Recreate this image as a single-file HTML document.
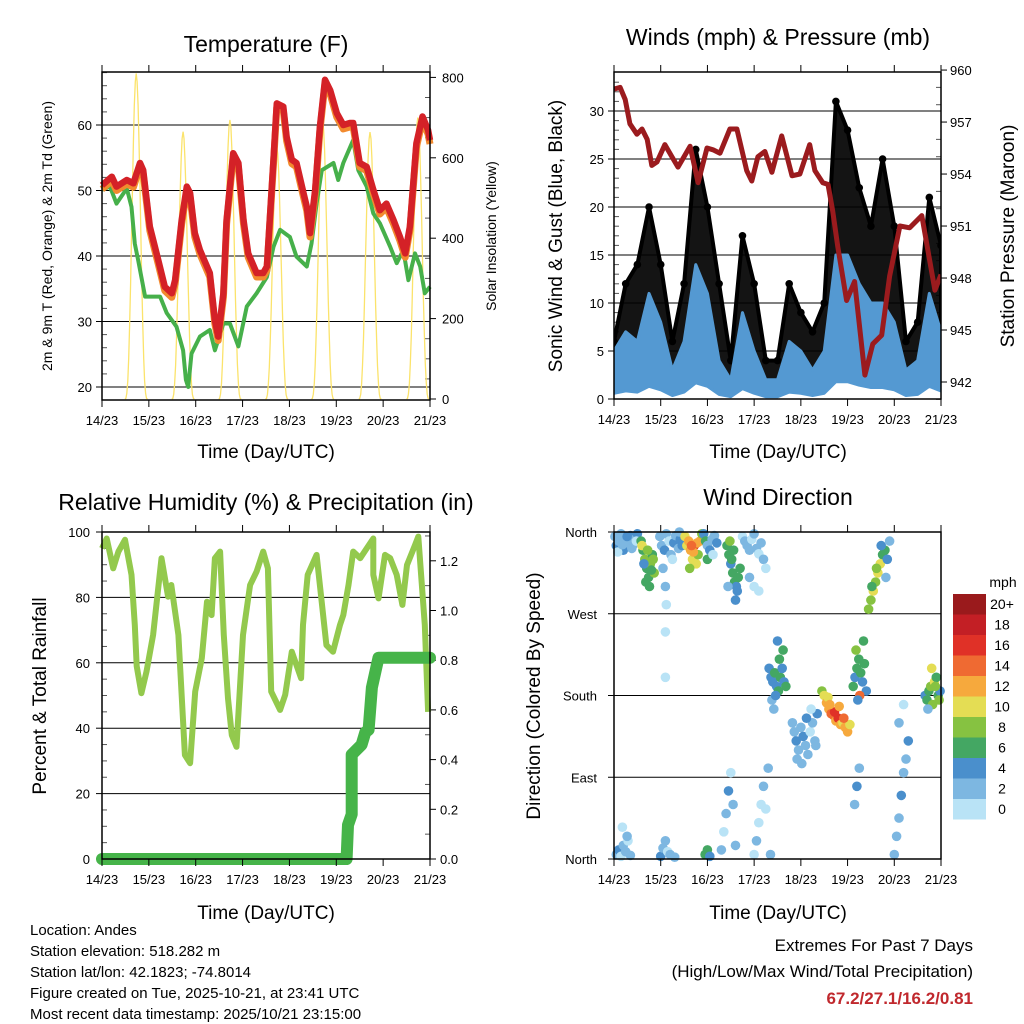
<!DOCTYPE html>
<html><head><meta charset="utf-8"><style>
body{margin:0;background:#fff}
svg{display:block;font-family:"Liberation Sans",sans-serif}
</style></head><body>
<svg id="s" width="1024" height="1024" viewBox="0 0 1024 1024" xmlns="http://www.w3.org/2000/svg"></svg>
<script>
// ---------- data ----------
const dayLabels=["14/23","15/23","16/23","17/23","18/23","19/23","20/23","21/23"];
const tempDays=[0,0.21,0.31,0.53,0.67,0.81,0.88,1.02,1.2,1.34,1.49,1.56,1.7,1.81,1.88,1.98,2.09,2.3,2.41,2.48,2.59,2.66,2.8,2.91,3.02,3.12,3.3,3.44,3.52,3.66,3.73,3.87,3.94,4.05,4.15,4.3,4.37,4.44,4.55,4.65,4.76,4.87,5.01,5.15,5.29,5.36,5.5,5.65,5.79,5.93,6.07,6.22,6.36,6.47,6.57,6.71,6.84,6.96,7.0];
const tempVals=[50.8,52.1,50.6,51.6,51.1,54.2,53.1,44.5,39.4,35.3,34.3,36.3,45.5,50.6,49.6,43.5,40.9,37.4,30.2,27.7,34.3,45.5,55.7,54.2,45.5,40.4,37.4,37.4,38.4,54.7,63.3,62.8,58.2,54.7,54.2,49.6,47.5,43.5,50.1,59.7,66.9,65.3,61.8,60.0,60.3,60.3,54.2,53.6,50.1,47.0,48.0,45.5,42.9,40.4,44.5,57.2,61.3,59.2,57.7];
const dewDays=[0,0.17,0.31,0.53,0.63,0.7,0.77,0.92,1.24,1.38,1.59,1.73,1.79,1.84,1.91,2.09,2.3,2.41,2.59,2.73,2.91,3.09,3.3,3.52,3.66,3.8,4.01,4.15,4.37,4.47,4.58,4.69,4.94,5.04,5.15,5.36,5.47,5.65,5.79,5.93,6.15,6.29,6.43,6.54,6.68,6.79,6.89,7.0];
const dewVals=[50.1,50.6,48.0,50.3,47.5,41.9,39.4,33.8,33.8,31.3,29.2,25.6,21.1,20.0,25.1,27.7,28.7,25.6,29.7,29.7,26.2,32.3,34.3,36.8,41.4,44.0,42.9,39.9,38.4,41.9,48.0,53.1,54.2,51.6,54.2,57.7,53.1,50.6,46.5,45.0,41.4,38.9,40.9,36.3,40.4,38.4,34.3,35.3];
const solarPeakDays=[0.73,1.73,2.73,3.73,4.71,5.72,6.74];
const solarPeakVals=[810,665,694,627,687,664,700];
const windDays=[0,0.25,0.5,0.75,1,1.25,1.5,1.75,2,2.25,2.5,2.75,3,3.25,3.5,3.75,4,4.25,4.5,4.75,5,5.25,5.5,5.75,6,6.25,6.5,6.75,7];
const sonicVals=[5,7,6,11,8,3,6,14,11,4,2,9,5,2,2,6,5,3,5,15,15,12,10,10,8,3,4,11,7];
const gustVals=[6,12,14,20,14,6,12,26,20,12,4,17,12,4,4,12,9,7,10,31,28,22,18,25,18,6,8,21,16];
const presDays=[0,0.13,0.24,0.34,0.49,0.6,0.71,0.81,0.92,1.09,1.24,1.37,1.63,1.8,1.99,2.12,2.27,2.48,2.63,2.84,2.95,3.08,3.23,3.38,3.59,3.81,3.98,4.19,4.3,4.47,4.58,4.68,4.79,4.98,5.15,5.37,5.54,5.73,5.9,6.12,6.33,6.59,6.87,7.0];
const presVals=[958.9,959.0,958.3,956.9,956.3,956.6,956.0,954.5,954.7,955.7,955.0,954.4,955.6,953.5,955.5,955.4,955.2,956.6,956.6,954.2,953.6,955.0,955.3,954.1,956.2,953.9,954.0,955.7,954.2,953.5,953.4,951.9,949.8,946.7,947.8,942.4,944.2,944.7,948.1,951.0,950.9,951.6,947.3,948.2];
const rhDays=[0,0.1,0.24,0.35,0.49,0.63,0.7,0.74,0.84,0.95,1.09,1.27,1.41,1.48,1.63,1.77,1.88,1.99,2.13,2.24,2.34,2.41,2.52,2.6,2.69,2.77,2.87,3.01,3.16,3.3,3.44,3.54,3.61,3.8,3.91,4.05,4.25,4.29,4.39,4.58,4.79,4.93,5.08,5.15,5.26,5.36,5.51,5.79,5.79,5.9,6.04,6.15,6.29,6.41,6.51,6.68,6.75,6.89,6.96];
const rhVals=[95,98,88.9,94,97.6,86.9,71.6,59,50.7,57.3,68.5,92,80.2,83.8,68.5,31.8,29.3,51.2,61.4,78.7,74.6,92,94,68.5,49.1,37.9,34.3,68.5,83.8,87.9,94,88.9,51.2,45.6,50.2,63.4,55.3,71.6,86.9,93,65.4,63.4,71.6,74.6,83.8,94,92,98,86.9,79.7,93,92,86.9,77.7,89.9,96,98.6,71.6,45,34.9,42];
const rainDays=[0,5.22,5.25,5.33,5.33,5.33,5.54,5.62,5.69,5.76,5.9,7.0];
const rainVals=[0,0,0.137,0.18,0.306,0.42,0.46,0.51,0.52,0.69,0.81,0.81];
const dirDays=[0.02,0.05,0.1,0.15,0.2,0.25,0.3,0.35,0.4,0.45,0.5,0.08,0.18,0.28,0.38,0.48,
0.58,0.62,0.66,0.7,0.74,0.78,0.82,0.86,0.6,0.68,0.76,0.84,0.72,0.8,0.64,
0.98,1.02,1.08,1.12,1.18,1.22,1.28,1.32,1.38,1.42,1.46,1.05,1.25,1.4,
1.52,1.56,1.6,1.64,1.68,1.72,1.76,1.8,1.84,1.88,1.62,1.7,1.78,1.66,
1.92,1.96,2.0,2.05,2.1,2.15,2.2,2.0,2.12,
2.42,2.46,2.5,2.54,2.58,2.62,2.66,2.7,2.48,2.56,2.64,2.52,2.6,2.44,
2.75,2.8,2.85,2.9,2.95,3.0,3.05,3.1,3.15,3.2,3.25,2.9,3.0,3.1,
3.32,3.36,3.4,3.44,3.48,3.52,3.56,3.6,3.64,3.68,3.38,3.46,3.54,3.62,3.5,3.42,
3.82,3.86,3.9,3.95,4.0,4.05,4.1,4.15,4.2,4.25,4.3,4.35,3.92,4.02,4.12,4.22,4.32,
4.45,4.5,4.55,4.6,4.65,4.7,4.75,4.8,4.85,4.9,4.95,5.0,5.05,4.58,4.72,4.82,4.92,4.62,
5.12,5.16,5.2,5.24,5.28,5.32,5.36,5.4,5.18,5.26,5.34,5.22,
5.45,5.5,5.55,5.6,5.65,5.7,5.75,5.8,5.85,5.52,5.62,5.72,5.82,5.9,
6.66,6.7,6.74,6.78,6.82,6.86,6.9,6.94,6.98,6.72,6.8,6.88,6.96,
0.05,0.1,0.15,0.2,0.25,0.3,0.35,0.18,0.28,1.0,1.05,1.1,1.15,1.2,1.3,1.95,2.0,2.05,2.3,2.35,2.4,2.45,2.5,2.55,2.6,3.0,3.05,3.1,3.15,3.2,3.25,3.3,3.35,6.0,6.05,6.1,6.15,6.2,6.25,6.3,6.1,6.2,5.15,5.2,5.25,1.1,1.1,1.1,1.12];
const dirDegs=[355,345,350,358,340,352,348,356,345,352,358,338,346,355,342,350,
350,340,330,320,310,325,335,315,345,305,300,330,340,318,325,
355,345,340,358,350,335,348,356,342,352,345,320,330,360,
355,345,350,340,330,345,325,335,350,358,320,338,348,345,
358,350,345,340,352,356,348,330,335,
345,335,325,315,305,300,310,320,350,340,295,330,285,300,
355,350,345,340,352,358,342,336,348,330,320,310,300,295,
210,200,195,205,190,185,200,210,195,190,175,180,220,230,240,165,
150,140,130,120,145,135,125,115,140,150,130,160,110,105,155,165,125,
185,180,172,165,160,158,152,155,148,150,145,140,148,178,162,168,155,170,
190,200,210,220,205,195,215,185,230,180,240,175,
275,285,295,305,315,325,335,340,330,300,320,345,310,350,
180,175,185,190,170,195,200,180,185,165,210,190,175,
5,10,3,15,8,20,4,35,25,3,12,20,8,5,2,5,10,3,10,30,50,75,95,60,15,5,20,40,60,80,55,100,5,5,25,45,70,95,110,130,150,170,60,80,100,200,250,300,280];
const dirSpeeds=[3,4,2,3,4,2,3,4,2,3,4,1,3,4,2,1,
7,6,8,7,6,9,7,8,10,6,7,8,9,6,5,
2,3,4,2,1,3,4,2,3,4,5,2,1,3,
10,11,12,13,11,16,10,9,12,8,9,13,12,14,
4,6,3,5,2,3,4,7,1,
6,7,5,6,7,5,6,7,8,6,5,7,4,3,
1,2,3,2,1,2,3,1,2,3,1,2,0,1,
4,5,4,6,5,7,6,5,4,6,3,4,7,6,4,3,
3,2,4,3,2,4,3,2,1,3,2,4,3,2,4,1,2,
9,11,12,13,14,15,12,16,12,11,13,12,10,10,17,12,14,13,
6,5,7,6,7,5,6,4,8,15,6,4,
8,9,10,9,11,10,7,6,4,7,9,5,3,2,
4,6,7,9,8,10,7,6,5,3,11,8,9,
2,4,1,2,3,1,2,1,2,4,3,2,1,2,3,7,6,5,2,1,2,4,1,3,2,1,2,1,0,2,1,2,3,3,2,3,4,2,3,4,2,1,3,4,3,1,1,2,0];
const speedLabels=["0","2","4","6","8","10","12","14","16","18","20+"];
const speedColors=["#b9e3f6","#7db7e1","#4a8fcc","#44a763","#86c241","#e4dd54","#f6a93d","#ef6a32","#e03127","#c31f25","#9a1a1c"];

// ---------- helpers ----------
const S=document.getElementById('s');
const NS="http://www.w3.org/2000/svg";
function el(tag,attrs,parent){const e=document.createElementNS(NS,tag);for(const k in attrs)e.setAttribute(k,attrs[k]);(parent||S).appendChild(e);return e;}
function txt(x,y,s,size,anchor,parent,extra){const t=el('text',Object.assign({x:x,y:y,'font-size':size,'text-anchor':anchor||'middle',fill:'#000'},extra||{}),parent);t.textContent=s;return t;}
function pts(xs,ys,fx,fy){return xs.map((d,i)=>fx(d).toFixed(1)+','+fy(ys[i]).toFixed(1)).join(' ');}

function panel(name,x0,x1,y0,y1){
  const g=el('g',{});
  
  
  return {g:g,x0:x0,x1:x1,y0:y0,y1:y1,fx:d=>x0+(x1-x0)*d/7};
}
function frame(p){
  const r=el('rect',{x:p.x0,y:p.y0,width:p.x1-p.x0,height:p.y1-p.y0,fill:'none',stroke:'#000','stroke-width':1.5},p.g);
  
  
}
function xAxis(p){
  for(let i=0;i<=7;i++){
    const x=p.fx(i);
    el('line',{x1:x,x2:x,y1:p.y1,y2:p.y1+7,stroke:'#000','stroke-width':1},p.g);
    el('line',{x1:x,x2:x,y1:p.y0,y2:p.y0-7,stroke:'#000','stroke-width':1},p.g);
    const t=txt(x,p.y1+25,dayLabels[i],13,'middle',p.g);
    
    
  }
}
function yGrid(p,vals,fy,labels,side,lx){
  vals.forEach((v,i)=>{
    const y=fy(v);
    if(side==='left'){
      const gl=el('line',{x1:p.x0,x2:p.x1,y1:y,y2:y,stroke:'#000','stroke-width':1},p.g);
      
      
      el('line',{x1:p.x0-6,x2:p.x0,y1:y,y2:y,stroke:'#000'},p.g);
      const t=txt(lx,y+5,labels[i],13,'end',p.g);
      
      
    } else {
      el('line',{x1:p.x1,x2:p.x1+6,y1:y,y2:y,stroke:'#000'},p.g);
      const t=txt(lx,y+5,labels[i],13,'start',p.g);
      
      
    }
  });
}
function minor(p,vals,fy,side){
  vals.forEach(v=>{const y=fy(v);
    if(side==='left')el('line',{x1:p.x0,x2:p.x0+5,y1:y,y2:y,stroke:'#555'},p.g);
    else el('line',{x1:p.x1-5,x2:p.x1,y1:y,y2:y,stroke:'#555'},p.g);});
}
function rot(x,y,s,size,parent,name){
  const t=txt(x,y,s,size,'middle',parent,{transform:`rotate(-90 ${x} ${y})`});
  
  
}
function title(x,y,s,size,name){const t=txt(x,y,s,size,'middle');}

// ---------- Panel 1: Temperature ----------
(function(){
  const p=panel('temperature-chart',102,430,72,400);
  const fy=v=>387-(v-20)*6.55;
  const fs=v=>399-v*0.402;
  yGrid(p,[20,30,40,50,60],fy,["20","30","40","50","60"],'left',92);
  yGrid(p,[0,200,400,600,800],fs,["0","200","400","600","800"],'right',442);
  const mn=[];for(let v=22;v<=68;v+=2)if(v%10)mn.push(v);minor(p,mn,fy,'left');
  const ms=[];for(let v=50;v<=800;v+=50)if(v%200)ms.push(v);minor(p,ms,fs,'right');
  solarPeakDays.forEach((d,i)=>{
    const xs=[],ys=[];
    for(let k=-12;k<=12;k++){const t=d+k*0.02;const c=Math.cos(k/12*Math.PI/2);xs.push(t);ys.push(solarPeakVals[i]*c*c*c);}
    const pl=el('polyline',{points:pts(xs,ys,p.fx,fs),fill:'none',stroke:'#fbe36b','stroke-width':1.3},p.g);
    
    
  });
  const dw=el('polyline',{points:pts(dewDays,dewVals,p.fx,fy),fill:'none',stroke:'#46b04a','stroke-width':4,'stroke-linejoin':'round'},p.g);
  
  
  const or=el('polyline',{points:pts(tempDays,tempVals.map(v=>v-0.6),p.fx,fy),fill:'none',stroke:'#f28a2e','stroke-width':7,'stroke-linejoin':'round'},p.g);
  
  
  const rd=el('polyline',{points:pts(tempDays,tempVals,p.fx,fy),fill:'none',stroke:'#d42127','stroke-width':6.5,'stroke-linejoin':'round'},p.g);
  
  
  frame(p);xAxis(p);
  rot(52,236,"2m & 9m T (Red, Orange) & 2m Td (Green)",14,p.g,'y-axis-title');
  rot(496,236,"Solar Insolation (Yellow)",14,p.g,'right-axis-title');
  const xt=txt(266,458,"Time (Day/UTC)",19,'middle',p.g);
  title(266,52,"Temperature (F)",23,'temperature-title');
})();

// ---------- Panel 2: Winds ----------
(function(){
  const p=panel('winds-chart',614,941,72,399);
  const fy=v=>399-v*9.6;
  const fp=v=>382-(v-942)*17.33;
  yGrid(p,[0,5,10,15,20,25,30],fy,["0","5","10","15","20","25","30"],'left',604);
  yGrid(p,[942,945,948,951,954,957,960],fp,["942","945","948","951","954","957","960"],'right',950);
  const mn=[];for(let v=1;v<=33;v++)if(v%5)mn.push(v);minor(p,mn,fy,'left');
  const mp=[];for(let v=941;v<=960;v++)if(v%3)mp.push(v);minor(p,mp,fp,'right');
  const clip=el('clipPath',{id:'wclip'},p.g);
  el('rect',{x:p.x0,y:p.y0,width:p.x1-p.x0,height:p.y1-p.y0},clip);
  const cg=el('g',{'clip-path':'url(#wclip)'},p.g);
  const up=windDays.map((d,i)=>p.fx(d)+','+fy(gustVals[i]));
  const lo=windDays.map((d,i)=>p.fx(d)+','+fy(sonicVals[i]*0.6)).reverse();
  const ga=el('polygon',{points:up.concat(lo).join(' '),fill:'#000','fill-opacity':0.92,stroke:'#000','stroke-width':4,'stroke-linejoin':'round'},cg);
  
  
  windDays.forEach((d,i)=>{const c=el('circle',{cx:p.fx(d),cy:fy(gustVals[i]),r:3.8,fill:'#000'},cg);
    
    });
  const su=windDays.map((d,i)=>p.fx(d)+','+fy(sonicVals[i]));
  const sl=windDays.map((d,i)=>p.fx(d)+','+fy(sonicVals[i]*0.12)).reverse();
  const sa=el('polygon',{points:su.concat(sl).join(' '),fill:'#5499d2',stroke:'#5499d2','stroke-width':3,'stroke-linejoin':'round'},cg);
  
  
  const pr=el('polyline',{points:pts(presDays,presVals,p.fx,fp),fill:'none',stroke:'#9b1b1e','stroke-width':5,'stroke-linejoin':'round'},cg);
  
  
  frame(p);xAxis(p);
  rot(562,236,"Sonic Wind & Gust (Blue, Black)",19,p.g,'y-axis-title');
  rot(1014,236,"Station Pressure (Maroon)",19,p.g,'right-axis-title');
  const xt=txt(778,458,"Time (Day/UTC)",19,'middle',p.g);
  title(778,45,"Winds (mph) & Pressure (mb)",23,'winds-title');
})();

// ---------- Panel 3: RH ----------
(function(){
  const p=panel('humidity-chart',102,430,532,859);
  const fy=v=>859-v*3.27;
  const fr=v=>859-v*248.5;
  yGrid(p,[0,20,40,60,80,100],fy,["0","20","40","60","80","100"],'left',90);
  yGrid(p,[0,0.2,0.4,0.6,0.8,1.0,1.2],fr,["0.0","0.2","0.4","0.6","0.8","1.0","1.2"],'right',440);
  const mn=[];for(let v=5;v<=100;v+=5)if(v%20)mn.push(v);minor(p,mn,fy,'left');
  const mr=[];for(let v=1;v<=13;v++)if(v%2)mr.push(v/10);minor(p,mr,fr,'right');
  const rh=el('polyline',{points:pts(rhDays,rhVals,p.fx,fy),fill:'none',stroke:'#93c94d','stroke-width':6,'stroke-linejoin':'round'},p.g);
  
  
  const rn=el('polyline',{points:pts(rainDays,rainVals,p.fx,fr),fill:'none',stroke:'#46b449','stroke-width':12,'stroke-linecap':'round','stroke-linejoin':'round'},p.g);
  
  
  frame(p);xAxis(p);
  rot(46,696,"Percent & Total Rainfall",19,p.g,'y-axis-title');
  const xt=txt(266,919,"Time (Day/UTC)",19,'middle',p.g);
  title(266,510,"Relative Humidity (%) & Precipitation (in)",23,'humidity-title');
})();

// ---------- Panel 4: Wind Direction ----------
(function(){
  const p=panel('wind-direction-chart',614,941,532,859);
  const fy=v=>859-v*327/360;
  yGrid(p,[0,90,180,270,360],fy,["North","East","South","West","North"],'left',597);
  dirDays.forEach((d,i)=>{
    const idx=Math.min(10,Math.floor(dirSpeeds[i]/2));
    const c=el('circle',{cx:p.fx(d).toFixed(1),cy:fy(dirDegs[i]).toFixed(1),r:4.8,fill:speedColors[idx]},p.g);
    
    
  });
  frame(p);xAxis(p);
  rot(540,696,"Direction (Colored By Speed)",19,p.g,'y-axis-title');
  const xt=txt(778,919,"Time (Day/UTC)",19,'middle',p.g);
  title(778,505,"Wind Direction",23,'wind-direction-title');
  const cb=el('g',{});
  
  
  const mt=txt(1003,587,"mph",14,'middle',cb);
  speedLabels.forEach((s,i)=>{
    const k=10-i;const y=594+i*20.5;
    const r=el('rect',{x:953,y:y,width:33,height:20.5,fill:speedColors[k]},cb);
    
    
    const t=txt(1002,y+15,speedLabels[k],14,'middle',cb);
    
    
  });
})();

// ---------- footer text ----------
const info=["Location: Andes","Station elevation: 518.282 m","Station lat/lon: 42.1823; -74.8014","Figure created on Tue, 2025-10-21, at 23:41 UTC","Most recent data timestamp: 2025/10/21 23:15:00"];
info.forEach((s,i)=>{const t=txt(30,935+i*21,s,15,'start');});
const e1=txt(973,951,"Extremes For Past 7 Days",17,'end');
const e2=txt(973,977,"(High/Low/Max Wind/Total Precipitation)",17,'end');
const e3=txt(973,1004,"67.2/27.1/16.2/0.81",17,'end',S,{fill:'#c0282d','font-weight':'bold'});
</script>
</body></html>
